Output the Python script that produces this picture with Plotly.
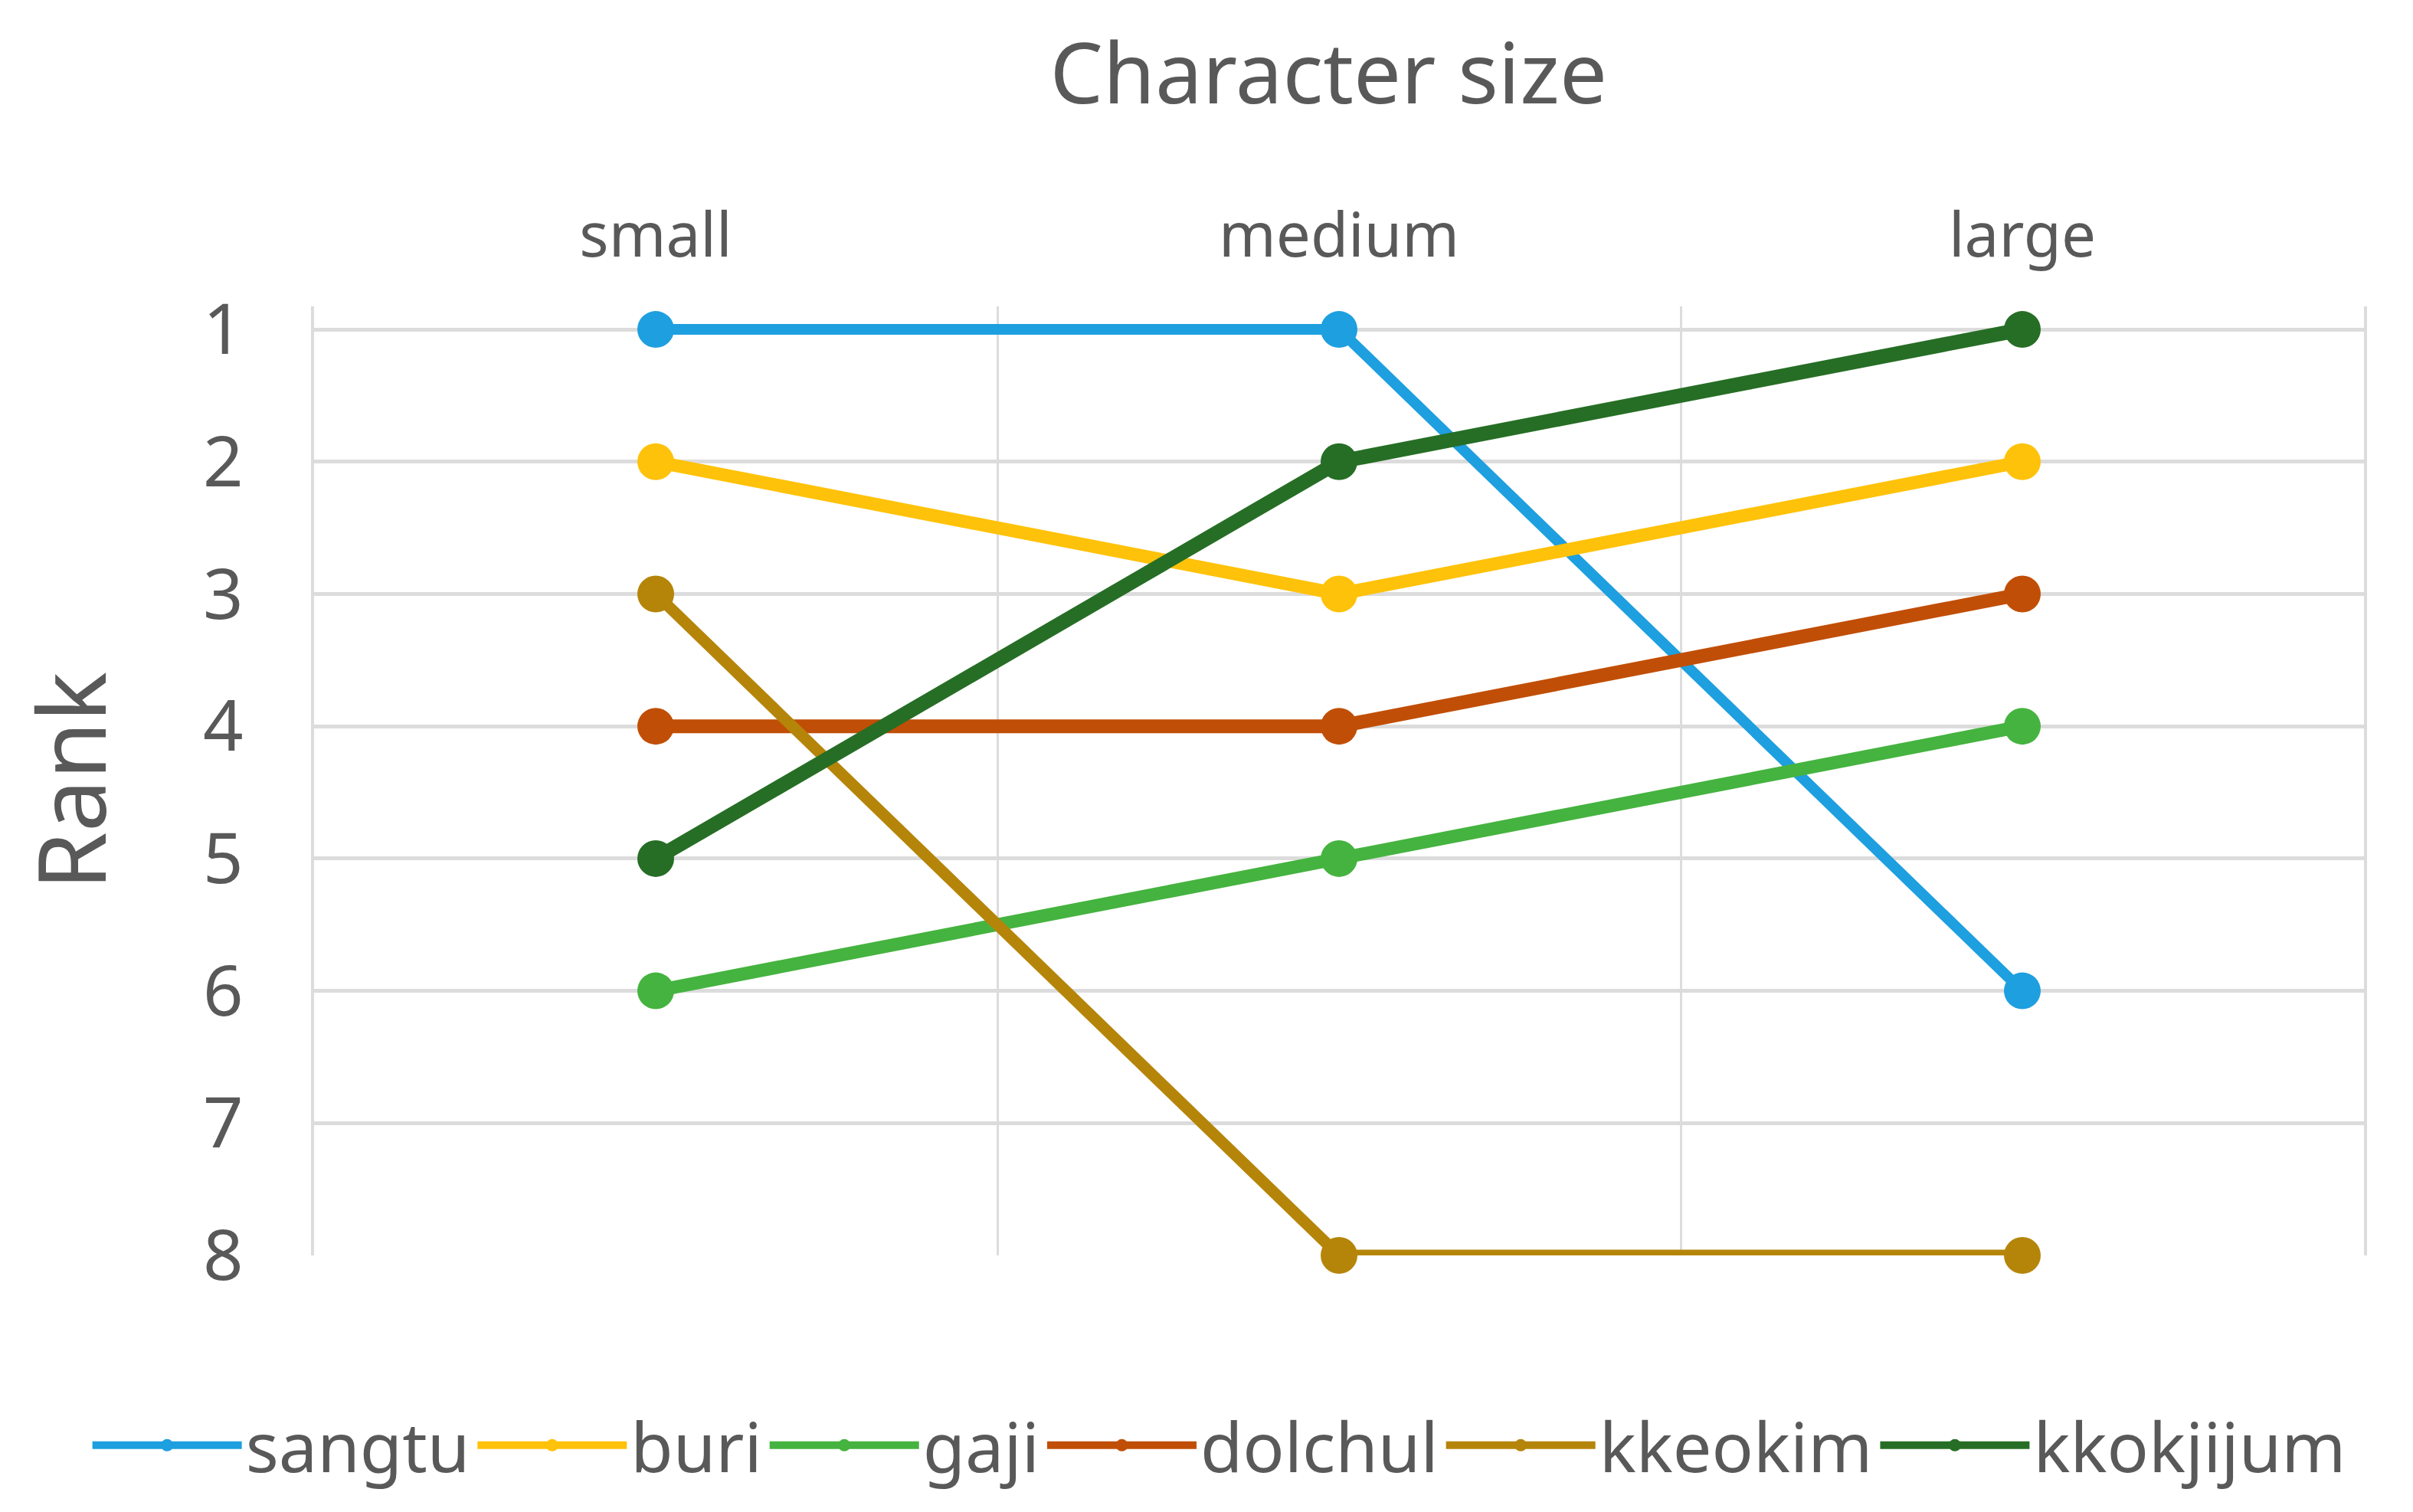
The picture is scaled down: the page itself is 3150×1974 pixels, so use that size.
import plotly.graph_objects as go

sizes = ['small', 'medium', 'large']
series_names = ['sangtu', 'buri', 'gaji', 'dolchul', 'kkeokim', 'kkokjijum']
sangtu = [1, 1, 6]
buri = [2, 3, 2]
gaji = [6, 5, 4]
dolchul = [4, 4, 3]
kkeokim = [3, 8, 8]
kkokjijum = [5, 2, 1]
rank_ticks = [1, 2, 3, 4, 5, 6, 7, 8]

colors = ['#1E9FDF', '#FFC20A', '#45B33F', '#C14E06', '#B5850A', '#266E25']
widths = [14, 17, 17, 18, 15, 19]

fig = go.Figure()
for name, vals, col, w in zip(series_names, [sangtu, buri, gaji, dolchul, kkeokim, kkokjijum], colors, widths):
    fig.add_trace(go.Scatter(
        x=sizes, y=vals, name=name, mode='lines+markers',
        line=dict(color=col, width=w),
        marker=dict(color=col, size=48),
        cliponaxis=False
    ))

fig.update_layout(
    width=3150, height=1974,
    paper_bgcolor='white', plot_bgcolor='white',
    font=dict(family='Noto Sans', color='#595959'),
    title=dict(text='Character size', x=0.548, xanchor='center', y=0.955, yanchor='middle',
               font=dict(size=110, color='#595959')),
    margin=dict(l=402, r=72, t=392, b=343),
    showlegend=True,
    legend=dict(orientation='h', x=-0.11, xanchor='left', y=-0.2, yanchor='middle',
                font=dict(size=90, color='#595959'), itemwidth=195,
                traceorder='normal', tracegroupgap=0),
)
fig.update_xaxes(
    type='category', side='top', range=[-0.5, 2.5],
    tickson='boundaries', showgrid=True, gridcolor='#dcdcdc', gridwidth=3,
    ticks='', tickfont=dict(size=80, color='#595959'), ticklabelstandoff=48,
    showline=False, zeroline=False
)
fig.update_yaxes(
    autorange=False, range=[8, 0.826], tickvals=rank_ticks,
    showgrid=True, gridcolor='#dcdcdc', gridwidth=5,
    showline=True, linecolor='#dcdcdc', linewidth=4, mirror=True,
    ticks='', tickfont=dict(size=92, color='#595959'), ticklabelstandoff=70,
    title=dict(text='Rank', font=dict(size=122, color='#595959'), standoff=105),
    zeroline=False
)

fig.write_html('out.html')
